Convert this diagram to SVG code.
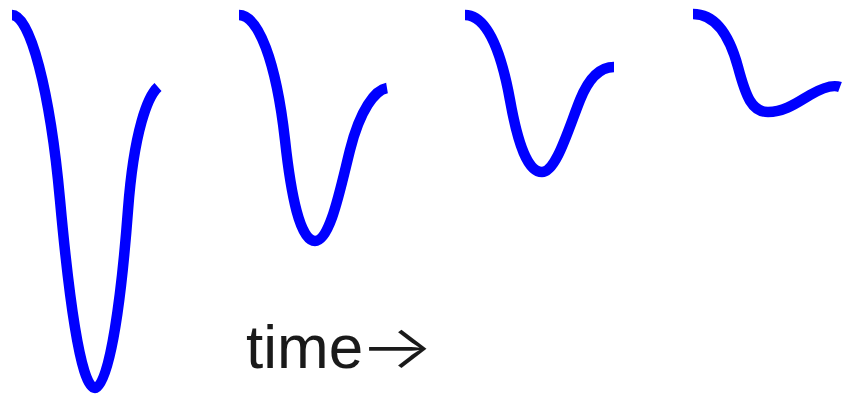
<svg xmlns="http://www.w3.org/2000/svg" width="844" height="397" viewBox="0 0 844 397">
<style>
.wave{fill:none;stroke:#0000ff;stroke-width:10.5;stroke-linecap:butt;stroke-linejoin:round}
.lbl{font-family:"Liberation Sans",Arial,sans-serif;font-size:62px;fill:#1a1a1a}
.arr{font-family:Inter,"DejaVu Sans",sans-serif;font-weight:300;font-size:60px}
</style>
<rect width="844" height="397" fill="#ffffff"/>
<g id="wave1"><path class="wave" d="M12,15 C30,15 50,90 60,200 C68,288 80,388 95,388 C110,388 122,290 128,210 C134,130 148,96 158,87"/></g>
<g id="wave2"><path class="wave" d="M239,15 C258,15 276,60 285,140 C291,195 300,241 315,241 C330,241 340,190 350,150 C360,110 375,90 387,88"/></g>
<g id="wave3"><path class="wave" d="M465,15 C485,15 500,45 510,100 C518,145 528,172 542,172 C556,172 568,130 580,100 C590,75 602,67 614,67"/></g>
<g id="wave4"><path class="wave" d="M693,14 C712,14 728,30 738,67 C746,97 752,112 768,112 C785,112 798,102 810,95 C822,88 832,84 840,87"/></g>
<g id="label"><text class="lbl" x="246" y="368">time<tspan class="arr" dx="-4" textLength="75" lengthAdjust="spacingAndGlyphs">→</tspan></text></g>
</svg>
